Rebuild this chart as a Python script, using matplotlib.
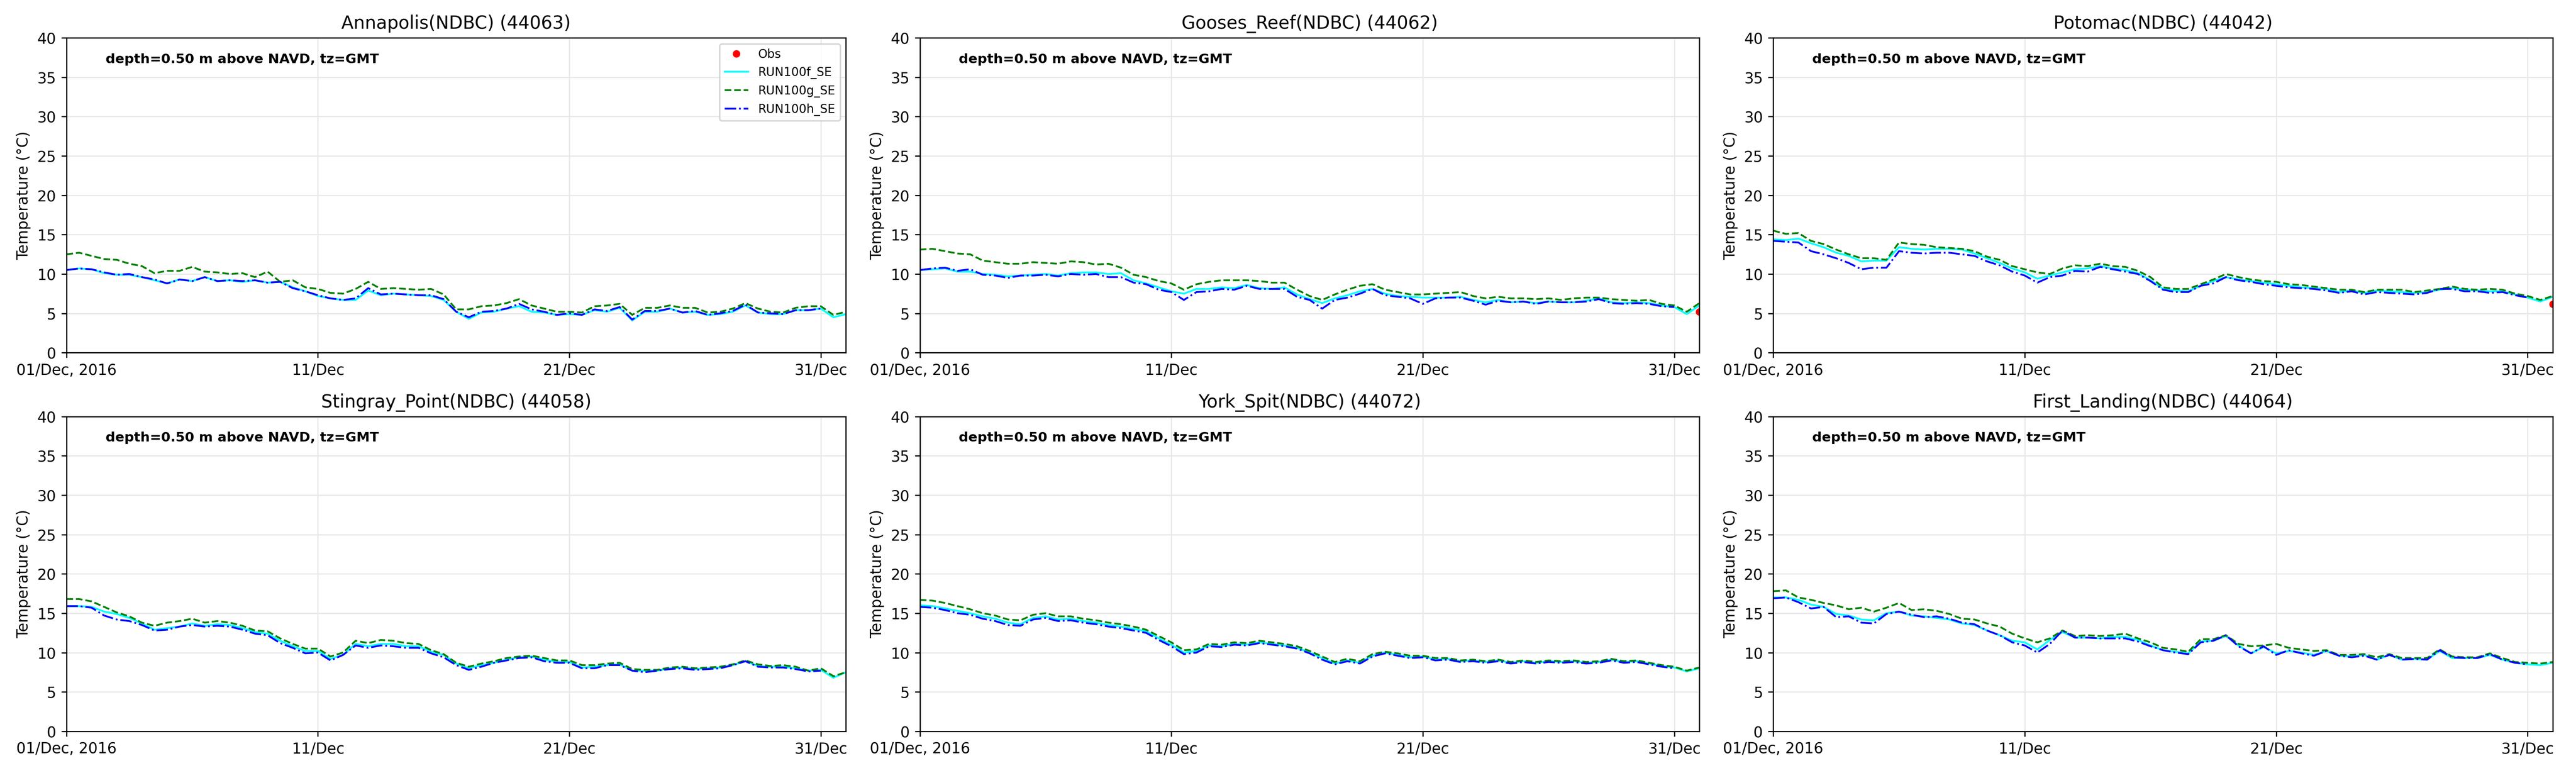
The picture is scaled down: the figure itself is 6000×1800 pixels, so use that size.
import matplotlib
matplotlib.use("Agg")
import matplotlib.pyplot as plt
import pandas as pd

# station titles
titles = ["Annapolis(NDBC) (44063)", "Gooses_Reef(NDBC) (44062)", "Potomac(NDBC) (44042)",
          "Stingray_Point(NDBC) (44058)", "York_Spit(NDBC) (44072)", "First_Landing(NDBC) (44064)"]
tick_dates = ["2016-12-01", "2016-12-11", "2016-12-21", "2016-12-31"]
tick_labels = ["01/Dec, 2016", "11/Dec", "21/Dec", "31/Dec"]
run_names = ["RUN100f_SE", "RUN100g_SE", "RUN100h_SE"]

# model series, every 12 h from 01/Dec 00:00 (°C)
f_annapolis = [10.5, 10.7, 10.6, 10.1, 9.9, 9.9, 9.6, 9.2, 8.8, 9.3, 9.1, 9.6, 9.1, 9.2, 9.0, 9.2, 8.9, 9.0, 8.3, 7.8,
               7.2, 6.9, 6.7, 6.7, 7.9, 7.3, 7.5, 7.4, 7.3, 7.2, 6.7, 5.2, 4.3, 5.1, 5.2, 5.6, 5.9, 5.2, 5.1, 4.8,
               4.9, 4.8, 5.4, 5.2, 5.7, 4.1, 5.2, 5.2, 5.6, 5.1, 5.2, 4.8, 4.9, 5.2, 6.0, 5.1, 4.9, 4.9, 5.4, 5.4,
               5.6, 4.5, 4.9]
g_annapolis = [12.5, 12.7, 12.3, 11.9, 11.8, 11.3, 11.0, 10.1, 10.4, 10.4, 10.9, 10.3, 10.2, 10.0, 10.1, 9.6, 10.3, 9.0, 9.2, 8.3,
               8.1, 7.6, 7.5, 8.1, 9.0, 8.1, 8.2, 8.1, 8.0, 8.1, 7.4, 5.5, 5.5, 5.9, 6.0, 6.3, 6.8, 6.0, 5.6, 5.2,
               5.2, 5.1, 5.9, 6.0, 6.2, 4.8, 5.7, 5.7, 6.0, 5.7, 5.7, 5.1, 5.2, 5.6, 6.3, 5.6, 5.2, 5.1, 5.7, 5.9,
               5.9, 4.8, 5.2]
h_annapolis = [10.5, 10.7, 10.6, 10.2, 9.9, 10.0, 9.6, 9.3, 8.8, 9.3, 9.1, 9.6, 9.1, 9.2, 9.1, 9.2, 8.9, 9.0, 8.2, 7.8,
               7.3, 6.9, 6.7, 6.9, 8.2, 7.4, 7.5, 7.4, 7.3, 7.3, 6.8, 5.2, 4.5, 5.2, 5.3, 5.6, 6.2, 5.5, 5.2, 4.8,
               5.0, 4.8, 5.5, 5.3, 5.8, 4.2, 5.3, 5.3, 5.6, 5.1, 5.3, 4.8, 5.0, 5.3, 6.1, 5.1, 5.0, 4.9, 5.4, 5.4,
               5.6]

f_gooses = [10.5, 10.6, 10.7, 10.3, 10.3, 10.0, 9.9, 9.7, 9.8, 9.9, 10.0, 9.8, 10.1, 10.2, 10.2, 10.0, 10.1, 9.2, 8.8, 8.3,
            7.8, 7.5, 8.1, 8.1, 8.3, 8.2, 8.6, 8.2, 8.1, 8.3, 7.4, 6.8, 6.3, 6.9, 7.3, 7.8, 8.1, 7.5, 7.2, 7.1,
            7.0, 7.0, 7.0, 7.1, 6.7, 6.4, 6.7, 6.4, 6.5, 6.3, 6.5, 6.4, 6.4, 6.6, 6.9, 6.4, 6.3, 6.4, 6.3, 6.0,
            5.8, 4.9, 6.0]
g_gooses = [13.1, 13.2, 12.9, 12.6, 12.5, 11.7, 11.5, 11.3, 11.3, 11.5, 11.4, 11.3, 11.6, 11.5, 11.2, 11.3, 10.8, 9.9, 9.6, 9.1,
            8.8, 8.0, 8.7, 9.0, 9.2, 9.2, 9.2, 9.1, 8.9, 8.9, 8.0, 7.2, 6.7, 7.4, 8.0, 8.5, 8.7, 8.0, 7.7, 7.4,
            7.4, 7.5, 7.6, 7.7, 7.2, 6.9, 7.1, 6.9, 6.9, 6.8, 6.9, 6.7, 6.9, 7.0, 7.0, 6.8, 6.7, 6.6, 6.7, 6.2,
            6.0, 5.2, 6.3]
h_gooses = [10.5, 10.7, 10.8, 10.4, 10.6, 9.9, 9.8, 9.5, 9.8, 9.8, 9.9, 9.7, 10.0, 9.9, 10.0, 9.6, 9.6, 8.9, 8.7, 8.0,
            7.7, 6.7, 7.7, 7.8, 8.1, 8.0, 8.5, 8.1, 8.1, 8.1, 7.1, 6.7, 5.6, 6.7, 7.0, 7.5, 8.1, 7.3, 7.1, 6.9,
            6.2, 6.9, 7.0, 7.0, 6.6, 6.1, 6.6, 6.4, 6.5, 6.2, 6.5, 6.4, 6.4, 6.5, 6.8, 6.3, 6.2, 6.3, 6.2, 5.9,
            5.8]

f_potomac = [14.4, 14.3, 14.5, 13.9, 13.4, 12.7, 12.3, 11.6, 11.7, 11.7, 13.4, 13.2, 13.1, 13.2, 13.2, 13.1, 12.6, 12.0, 11.4, 10.7,
             10.2, 9.4, 9.8, 10.2, 10.6, 10.7, 11.0, 10.7, 10.5, 10.1, 9.2, 8.1, 7.9, 7.8, 8.5, 9.1, 9.6, 9.3, 9.1, 8.9,
             8.7, 8.5, 8.3, 8.2, 8.1, 7.7, 7.9, 7.6, 7.9, 7.8, 7.7, 7.6, 7.7, 8.0, 8.2, 8.0, 7.9, 7.8, 7.8, 7.4,
             7.0, 6.5, 7.1]
g_potomac = [15.5, 15.1, 15.2, 14.2, 13.8, 13.1, 12.5, 12.0, 12.0, 11.8, 14.0, 13.8, 13.7, 13.4, 13.3, 13.2, 12.9, 12.2, 11.8, 11.0,
             10.6, 10.2, 10.0, 10.7, 11.1, 11.0, 11.3, 11.0, 10.9, 10.4, 9.6, 8.3, 8.1, 8.1, 8.7, 9.3, 10.0, 9.6, 9.3, 9.1,
             9.0, 8.7, 8.6, 8.4, 8.2, 8.0, 8.0, 7.7, 8.0, 8.0, 8.0, 7.7, 7.9, 8.1, 8.4, 8.1, 8.0, 8.1, 8.0, 7.5,
             7.2, 6.7, 7.2]
h_potomac = [14.2, 14.1, 14.0, 12.9, 12.5, 12.0, 11.4, 10.6, 10.8, 10.8, 12.9, 12.7, 12.6, 12.7, 12.7, 12.5, 12.3, 11.6, 11.1, 10.3,
             9.8, 8.9, 9.6, 9.8, 10.4, 10.3, 10.9, 10.6, 10.3, 10.0, 9.1, 8.0, 7.7, 7.7, 8.5, 8.8, 9.6, 9.2, 9.0, 8.7,
             8.5, 8.3, 8.2, 8.1, 7.9, 7.6, 7.8, 7.4, 7.7, 7.6, 7.5, 7.4, 7.6, 8.1, 8.1, 7.8, 7.8, 7.6, 7.7, 7.3,
             7.0]

f_stingray = [15.9, 15.9, 15.8, 15.2, 14.9, 14.4, 13.7, 12.9, 13.1, 13.3, 13.7, 13.4, 13.6, 13.5, 13.1, 12.6, 12.4, 11.5, 10.8, 10.2,
              10.2, 9.2, 9.7, 11.1, 10.8, 11.1, 11.1, 10.8, 10.8, 10.1, 9.7, 8.6, 8.0, 8.4, 8.7, 9.1, 9.4, 9.5, 9.1, 8.8,
              8.8, 8.1, 8.2, 8.4, 8.5, 7.7, 7.7, 7.7, 8.0, 8.1, 7.9, 8.0, 8.1, 8.4, 8.9, 8.3, 8.2, 8.2, 8.0, 7.7,
              7.8, 6.8, 7.5]
g_stingray = [16.8, 16.8, 16.5, 15.8, 15.1, 14.6, 13.8, 13.4, 13.8, 14.0, 14.3, 13.8, 14.0, 13.8, 13.4, 12.8, 12.7, 11.8, 11.1, 10.5,
              10.5, 9.5, 10.0, 11.5, 11.2, 11.6, 11.5, 11.2, 11.1, 10.3, 9.8, 8.7, 8.2, 8.6, 8.9, 9.3, 9.5, 9.6, 9.3, 9.0,
              9.0, 8.4, 8.4, 8.6, 8.7, 7.9, 7.8, 7.8, 8.1, 8.2, 8.0, 8.1, 8.2, 8.5, 9.0, 8.5, 8.3, 8.4, 8.2, 7.7,
              8.0, 7.0, 7.5]
h_stingray = [15.9, 15.9, 15.7, 14.7, 14.2, 14.0, 13.5, 12.8, 12.9, 13.3, 13.5, 13.3, 13.4, 13.3, 12.9, 12.4, 12.2, 11.2, 10.6, 9.9,
              10.0, 9.0, 9.7, 10.9, 10.6, 10.9, 10.8, 10.6, 10.6, 9.9, 9.4, 8.4, 7.8, 8.2, 8.7, 9.0, 9.3, 9.4, 8.9, 8.7,
              8.7, 8.0, 8.0, 8.4, 8.4, 7.7, 7.5, 7.7, 7.9, 8.0, 7.8, 7.9, 8.0, 8.4, 8.9, 8.2, 8.1, 8.1, 7.9, 7.6,
              7.7]

f_york = [16.0, 15.9, 15.6, 15.3, 15.0, 14.6, 14.3, 13.8, 13.6, 14.4, 14.6, 14.2, 14.3, 14.0, 13.8, 13.5, 13.3, 13.0, 12.7, 11.8,
          11.0, 10.0, 10.2, 10.9, 10.8, 11.1, 11.0, 11.3, 11.1, 10.9, 10.6, 10.0, 9.3, 8.6, 9.0, 8.7, 9.6, 10.0, 9.7, 9.4,
          9.5, 9.1, 9.2, 8.9, 9.0, 8.8, 9.0, 8.7, 8.9, 8.7, 8.9, 8.8, 8.9, 8.7, 8.8, 9.1, 8.8, 8.9, 8.6, 8.3,
          8.1, 7.6, 8.0]
g_york = [16.7, 16.6, 16.3, 15.9, 15.5, 15.0, 14.7, 14.2, 14.1, 14.8, 15.0, 14.6, 14.6, 14.3, 14.1, 13.8, 13.6, 13.3, 12.9, 12.1,
          11.3, 10.3, 10.4, 11.1, 11.0, 11.3, 11.2, 11.5, 11.3, 11.1, 10.8, 10.2, 9.5, 8.8, 9.2, 8.9, 9.8, 10.1, 9.9, 9.6,
          9.6, 9.3, 9.3, 9.0, 9.1, 8.9, 9.1, 8.8, 9.0, 8.8, 9.0, 8.9, 9.0, 8.8, 8.9, 9.2, 8.9, 9.0, 8.7, 8.4,
          8.2, 7.7, 8.1]
h_york = [15.8, 15.7, 15.4, 15.0, 14.8, 14.3, 14.0, 13.5, 13.4, 14.2, 14.4, 14.0, 14.1, 13.8, 13.6, 13.3, 13.1, 12.8, 12.5, 11.6,
          10.8, 9.8, 10.0, 10.8, 10.7, 11.0, 10.9, 11.2, 11.0, 10.8, 10.5, 9.9, 9.1, 8.5, 8.9, 8.6, 9.5, 9.9, 9.6, 9.3,
          9.4, 9.0, 9.1, 8.8, 8.9, 8.7, 8.9, 8.6, 8.8, 8.6, 8.8, 8.7, 8.8, 8.6, 8.7, 9.0, 8.7, 8.8, 8.5, 8.2,
          8.0]

f_landing = [17.0, 17.0, 16.7, 16.1, 15.8, 14.9, 14.7, 14.2, 14.1, 15.0, 15.2, 14.7, 14.6, 14.4, 14.2, 13.7, 13.5, 12.8, 12.2, 11.5,
             11.3, 10.4, 11.6, 12.6, 11.9, 11.9, 11.8, 12.0, 12.0, 11.6, 10.9, 10.3, 10.1, 9.9, 11.4, 11.5, 12.1, 10.9, 9.9, 10.7,
             9.9, 10.2, 10.0, 9.7, 10.2, 9.6, 9.5, 9.7, 9.1, 9.7, 9.1, 9.2, 9.1, 10.2, 9.3, 9.3, 9.3, 9.7, 9.1, 8.7,
             8.5, 8.4, 8.7]
g_landing = [17.8, 17.9, 17.0, 16.7, 16.3, 16.0, 15.5, 15.7, 15.2, 15.7, 16.3, 15.4, 15.5, 15.3, 14.9, 14.3, 14.2, 13.7, 13.3, 12.4,
             11.8, 11.3, 11.8, 12.8, 12.1, 12.2, 12.1, 12.2, 12.4, 11.8, 11.3, 10.6, 10.4, 10.1, 11.7, 11.7, 12.2, 11.1, 10.8, 10.9,
             11.1, 10.6, 10.4, 10.2, 10.3, 9.7, 9.7, 9.8, 9.4, 9.8, 9.3, 9.3, 9.3, 10.4, 9.5, 9.4, 9.4, 9.9, 9.3, 8.8,
             8.7, 8.6, 8.8]
h_landing = [16.9, 17.0, 16.4, 15.6, 15.8, 14.5, 14.6, 13.8, 13.7, 14.9, 15.2, 14.8, 14.5, 14.6, 14.3, 13.8, 13.6, 12.8, 12.2, 11.3,
             10.9, 10.0, 11.1, 12.8, 11.9, 11.9, 11.8, 11.8, 11.8, 11.4, 10.8, 10.3, 10.0, 9.8, 11.3, 11.5, 12.2, 10.8, 9.9, 10.8,
             9.7, 10.3, 9.9, 9.6, 10.2, 9.6, 9.4, 9.6, 9.1, 9.7, 9.1, 9.2, 9.1, 10.3, 9.4, 9.3, 9.3, 9.8, 9.1, 8.7,
             8.5]

# observations (only a last value at 01/Jan 00:00 for two stations)
obs_time = ["2017-01-01 00:00"]
obs_gooses = [5.2]
obs_potomac = [6.2]

runs_f = [f_annapolis, f_gooses, f_potomac, f_stingray, f_york, f_landing]
runs_g = [g_annapolis, g_gooses, g_potomac, g_stingray, g_york, g_landing]
runs_h = [h_annapolis, h_gooses, h_potomac, h_stingray, h_york, h_landing]
obs_vals = [[], obs_gooses, obs_potomac, [], [], []]


def times(vals):
    return pd.date_range("2016-12-01", periods=len(vals), freq="12h")


fig, axes = plt.subplots(2, 3, figsize=(24, 7.2))
fig.subplots_adjust(left=0.0258, right=0.991, bottom=0.054, top=0.951, wspace=0.0948, hspace=0.2026)

for i, ax in enumerate(axes.flat):
    ov = obs_vals[i]
    ax.plot(pd.to_datetime(obs_time[:len(ov)]), ov, "o", color="red", ms=4, label="Obs")
    ax.plot(times(runs_f[i]), runs_f[i], "-", color="cyan", lw=1.2, label=run_names[0])
    ax.plot(times(runs_g[i]), runs_g[i], "--", color="green", lw=1.2, label=run_names[1])
    ax.plot(times(runs_h[i]), runs_h[i], "-.", color="blue", lw=1.2, label=run_names[2])

    ax.set_xlim(pd.Timestamp("2016-12-01"), pd.Timestamp("2017-01-01"))
    ax.set_ylim(0, 40)
    ax.set_xticks(pd.to_datetime(tick_dates))
    ax.set_xticklabels(tick_labels)
    ax.set_yticks(range(0, 41, 5))
    ax.grid(True, color="0.91", lw=0.8)
    ax.set_axisbelow(True)
    ax.set_title(titles[i])
    ax.set_ylabel("Temperature (°C)")
    ax.text(0.05, 0.92, "depth=0.50 m above NAVD, tz=GMT", transform=ax.transAxes,
            fontsize=9, fontweight="bold")
    if i == 0:
        ax.legend(loc="upper right", fontsize=8)

fig.savefig("out.png", dpi=250)
